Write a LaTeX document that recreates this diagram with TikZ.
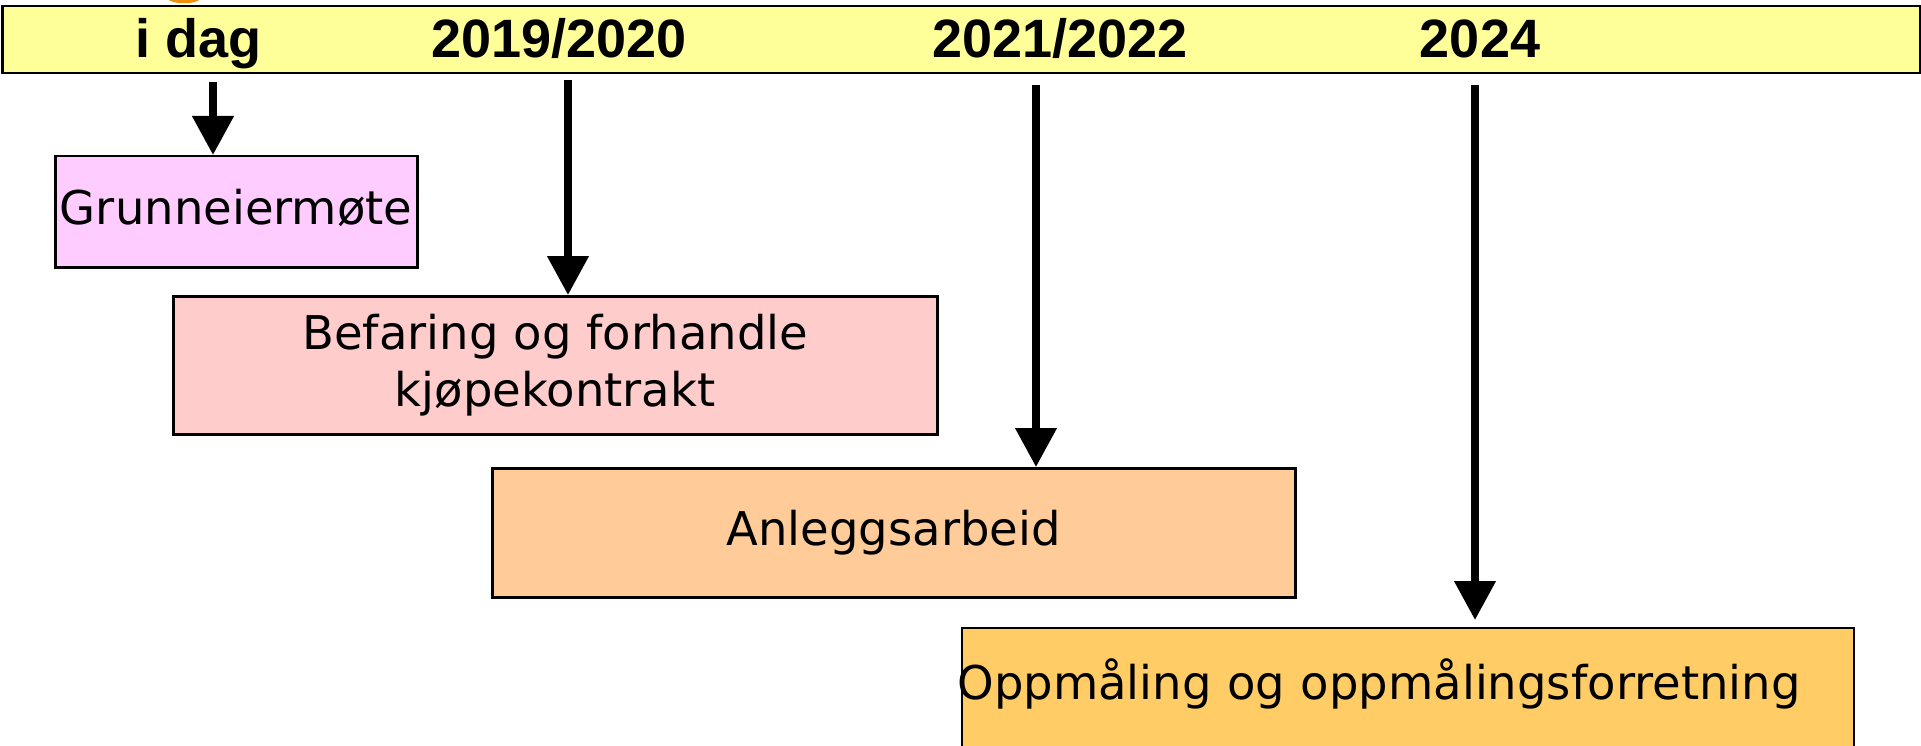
\documentclass[tikz,border=0pt]{standalone}
\usepackage{fontspec}
\setmainfont{DejaVu Sans}
\newfontfamily\hdrfont{Liberation Sans}
\usetikzlibrary{arrows.meta}
\definecolor{baryellow}{HTML}{FFFF99}
\definecolor{boxpink}{HTML}{FFCCFF}
\definecolor{boxrose}{HTML}{FFCCCC}
\definecolor{boxpeach}{HTML}{FFCC99}
\definecolor{boxgold}{HTML}{FFCC66}
\definecolor{bloborange}{HTML}{F0900A}
\tikzset{
  box/.style={draw=black, line width=2.5pt, inner sep=0pt, anchor=north west,
    font=\fontsize{46.5pt}{57pt}\selectfont},
  oneline/.style={text height=35pt, text depth=10pt},
  hdr/.style={font=\hdrfont\bfseries\fontsize{54pt}{60pt}\selectfont, anchor=base, inner sep=0pt},
  arr/.style={line width=7.5pt, -{Triangle[length=39pt,width=40pt]}}
}
\begin{document}
\begin{tikzpicture}[x=1pt,y=-1pt]
\useasboundingbox (0,0) rectangle (1921,746);
\clip (0,0) rectangle (1921,746);
\fill[white] (0,0) rectangle (1921,746);
% orange blob above the bar
\fill[bloborange] (167,-2) .. controls (170,5) and (198,5) .. (201,-2) -- cycle;
% timeline bar
\node[draw=black, line width=2.5pt, fill=baryellow, minimum width=1918pt, minimum height=67pt,
  inner sep=0pt, anchor=north west] (bar) at (1,5) {};
\node[hdr] (l1) at (199,58) {i dag};
\node[hdr] (l2) at (559,58) {2019/2020};
\node[hdr] (l3) at (1060,58) {2021/2022};
\node[hdr] (l4) at (1480,58) {2024};
% boxes
\node[box, oneline, fill=boxpink, minimum width=362pt, minimum height=111pt] (g) at (54,155) {Grunneiermøte};
\node[box, fill=boxrose, minimum width=764pt, minimum height=138pt, align=center] (b) at (172,295)
  {Befaring og forhandle\\kjøpekontrakt};
\node[box, oneline, fill=boxpeach, minimum width=803pt, minimum height=129pt] (a) at (491,467) {Anleggsarbeid};
\node[box, fill=boxgold, line width=2pt, minimum width=892pt, minimum height=160pt, text width=892pt,
  align=left, text height=35pt, text depth=53pt] (o) at (960.5,627) {\hspace*{-4pt}Oppmåling og oppmålingsforretning};
% arrows
\coordinate (s1) at (213,82);
\coordinate (s2) at (568,80);
\coordinate (s3) at (1036,85);
\coordinate (s4) at (1475,85);
\draw[arr] (s1) -- (s1 |- g.north);
\draw[arr] (s2) -- (s2 |- b.north);
\draw[arr] (s3) -- (s3 |- a.north);
\draw[arr, shorten >=7pt] (s4) -- (s4 |- o.north);
\end{tikzpicture}
\end{document}
